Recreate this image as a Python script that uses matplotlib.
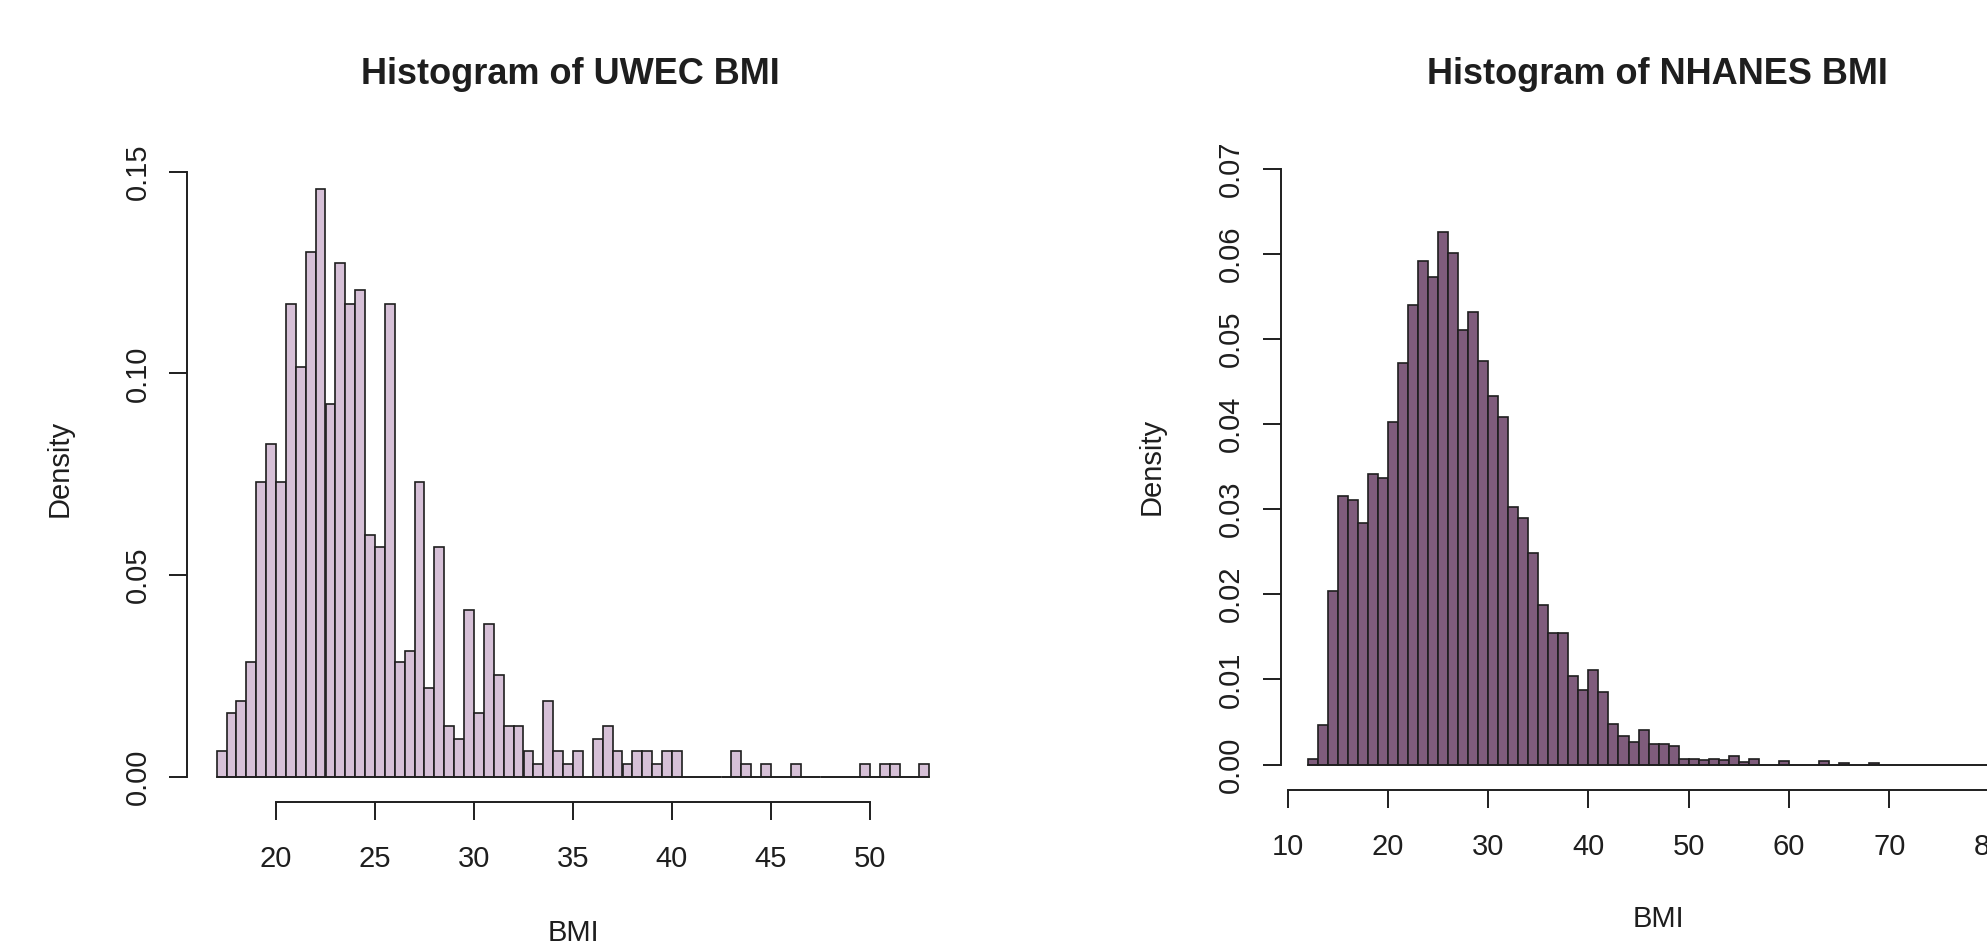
import numpy as np
import matplotlib.pyplot as plt

plt.rcParams['font.family'] = ['Liberation Sans', 'DejaVu Sans']

# UWEC BMI histogram: bins of 0.5 starting at 17.0 (density)
uwec_start = 17.0
uwec_binwidth = 0.5
uwec_density = [
    0.0064, 0.0158, 0.0189, 0.0284, 0.0731, 0.0826, 0.0731, 0.1173, 0.1017, 0.1301,
    0.1458, 0.0923, 0.1273, 0.1173, 0.1207, 0.0600, 0.0570, 0.1173, 0.0284, 0.0313,
    0.0731, 0.0221, 0.0570, 0.0127, 0.0094, 0.0413, 0.0158, 0.0379, 0.0252, 0.0127,
    0.0127, 0.0064, 0.0031, 0.0189, 0.0064, 0.0031, 0.0064, 0.0, 0.0094, 0.0127,
    0.0064, 0.0031, 0.0064, 0.0064, 0.0031, 0.0064, 0.0064, 0.0, 0.0, 0.0,
    0.0, 0.0, 0.0064, 0.0031, 0.0, 0.0031, 0.0, 0.0, 0.0031, 0.0,
    0.0, 0.0, 0.0, 0.0, 0.0, 0.0031, 0.0, 0.0031, 0.0031, 0.0,
    0.0, 0.0031,
]
uwec_xticks = [20, 25, 30, 35, 40, 45, 50]
uwec_yticks = [0.00, 0.05, 0.10, 0.15]

# NHANES BMI histogram: bins of 1 starting at 12
nhanes_start = 12
nhanes_binwidth = 1
nhanes_density = [
    0.0007, 0.0046, 0.0204, 0.0315, 0.0311, 0.0284, 0.0341, 0.0337, 0.0402, 0.0471,
    0.0540, 0.0591, 0.0573, 0.0626, 0.0601, 0.0510, 0.0532, 0.0474, 0.0433, 0.0408,
    0.0303, 0.0289, 0.0248, 0.0187, 0.0154, 0.0154, 0.0104, 0.0088, 0.0111, 0.0085,
    0.0048, 0.0033, 0.0027, 0.0040, 0.0024, 0.0024, 0.0022, 0.0007, 0.0006, 0.0005,
    0.0006, 0.0005, 0.0010, 0.0003, 0.0007, 0.0, 0.0, 0.0004, 0.0, 0.0,
    0.0, 0.0004, 0.0, 0.0002, 0.0, 0.0, 0.0002, 0.0, 0.0, 0.0,
    0.0, 0.0, 0.0, 0.0, 0.0, 0.0, 0.0, 0.0, 0.0, 0.0,
    0.0, 0.0, 0.0, 0.0, 0.0, 0.0,
]
nhanes_xticks = [10, 20, 30, 40, 50, 60, 70, 80, 90]
nhanes_yticks = [0.00, 0.01, 0.02, 0.03, 0.04, 0.05, 0.06, 0.07]

W, H = 1987, 947
fig = plt.figure(figsize=(W / 100, H / 100), dpi=100)
ink = '#1e1e1e'


def add_px_axes(left, right, top, bottom):
    # axes placed in pixel coordinates of the output image
    return fig.add_axes([left / W, 1 - bottom / H, (right - left) / W, (bottom - top) / H])


def draw_hist(ax, edges, density, width, fill):
    ax.bar(edges, density, width=width, align='edge',
           color=fill, edgecolor=ink, linewidth=1.2)
    # empty bins still show as a line along zero, like R's hist()
    ax.plot([edges[0], edges[-1] + width], [0, 0], color=ink, linewidth=1.2)


def style_axes(ax, xticks, yticks, ylabfmt, xbounds):
    for s in ['top', 'right']:
        ax.spines[s].set_visible(False)
    ax.spines['left'].set_bounds(yticks[0], yticks[-1])
    ax.spines['bottom'].set_bounds(*xbounds)
    ax.spines['bottom'].set_position(('outward', 12.2))
    for s in ['left', 'bottom']:
        ax.spines[s].set_linewidth(1.4)
        ax.spines[s].set_color(ink)
    ax.set_xticks(xticks)
    ax.set_xticklabels([str(t) for t in xticks])
    ax.set_yticks(yticks)
    ax.set_yticklabels([ylabfmt.format(t) for t in yticks])
    ax.tick_params(axis='both', length=13, width=1.4, color=ink, labelsize=21, labelcolor=ink)
    ax.tick_params(axis='x', pad=18)
    ax.tick_params(axis='y', pad=12.5, labelrotation=90)
    for lab in ax.get_yticklabels():
        lab.set_va('center')


# ---- left: UWEC ----
px_unit_l = 19.8      # pixels per BMI unit
x20_px = 276          # pixel of BMI 20
dens_px_l = 4036      # pixels per density unit
zero_px_l = 777
ax1 = add_px_axes(187, 960, zero_px_l - 0.152 * dens_px_l, zero_px_l + 0.002 * dens_px_l)
ax1.set_xlim(20 + (187 - x20_px) / px_unit_l, 20 + (960 - x20_px) / px_unit_l)
ax1.set_ylim(-0.002, 0.152)
uwec_edges = uwec_start + uwec_binwidth * np.arange(len(uwec_density))
draw_hist(ax1, uwec_edges, uwec_density, uwec_binwidth, '#d6c0d7')
style_axes(ax1, uwec_xticks, uwec_yticks, '{:.2f}', (20, 50))

# ---- right: NHANES ----
px_unit_r = 10.03
x10_px = 1287.5
dens_px_r = 8514
zero_px_r = 764.5
ax2 = add_px_axes(1280.5, 2110, zero_px_r - 0.0715 * dens_px_r, zero_px_r + 0.001 * dens_px_r)
ax2.set_xlim(10 + (1280.5 - x10_px) / px_unit_r, 10 + (2110 - x10_px) / px_unit_r)
ax2.set_ylim(-0.001, 0.0715)
nhanes_edges = nhanes_start + nhanes_binwidth * np.arange(len(nhanes_density))
draw_hist(ax2, nhanes_edges, nhanes_density, nhanes_binwidth, '#7f5c7c')
style_axes(ax2, nhanes_xticks, nhanes_yticks, '{:.2f}', (10, 90))

# titles and axis labels
fig.text(570 / W, 1 - 75 / H, 'Histogram of UWEC BMI', ha='center', va='center',
         fontsize=26, fontweight='bold', color=ink)
fig.text(1657 / W, 1 - 75 / H, 'Histogram of NHANES BMI', ha='center', va='center',
         fontsize=26, fontweight='bold', color=ink)
fig.text(60 / W, 1 - 468 / H, 'Density', ha='center', va='center', rotation=90,
         fontsize=21, color=ink)
fig.text(1152 / W, 1 - 466 / H, 'Density', ha='center', va='center', rotation=90,
         fontsize=21, color=ink)
fig.text(573 / W, 1 - 933 / H, 'BMI', ha='center', va='center', fontsize=21, color=ink)
fig.text(1658 / W, 1 - 919 / H, 'BMI', ha='center', va='center', fontsize=21, color=ink)

fig.savefig('out.png', dpi=100, facecolor='white')
